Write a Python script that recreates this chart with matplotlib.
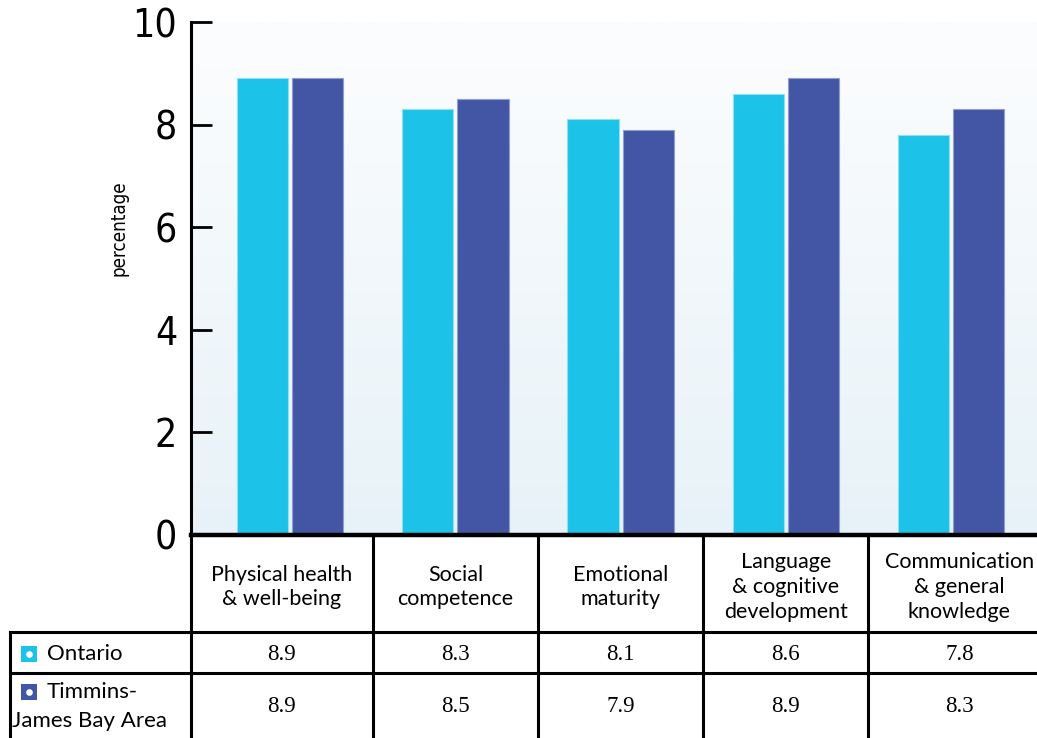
import numpy as np
import matplotlib
matplotlib.use("Agg")
import matplotlib.pyplot as plt
from matplotlib.transforms import blended_transform_factory
from matplotlib.lines import Line2D

# data
domains = ["Physical health\n& well-being", "Social\ncompetence", "Emotional\nmaturity",
           "Language\n& cognitive\ndevelopment", "Communication\n& general\nknowledge"]
ontario = [8.9, 8.3, 8.1, 8.6, 7.8]
timmins = [8.9, 8.5, 7.9, 8.9, 8.3]
series_names = ["Ontario", "Timmins-\nJames Bay Area"]
yticks = [0, 2, 4, 6, 8, 10]

c_ont = "#1cc2e7"
c_tim = "#4356a5"

W, H = 1037, 738
fig = plt.figure(figsize=(W / 100, H / 100), dpi=100)
fig.patch.set_facecolor("white")

# main axis: left spine at x=191, y=0 at 535px, y=10 at 22px, runs off the right edge
ax = fig.add_axes([191 / W, 1 - 535 / H, 1 - 191 / W, (535 - 22) / H])
x = np.arange(len(domains))
ax.set_xlim(-0.6, 4.52)
ax.set_ylim(0, 10)

# soft gradient background
grad = np.linspace(0, 1, 256).reshape(-1, 1)
ax.imshow(grad, extent=(-0.6, 4.52, 0, 10), aspect="auto", origin="lower",
          cmap=matplotlib.colors.LinearSegmentedColormap.from_list("bg", ["#e7f2f8", "#fcfdfe"]),
          zorder=0)

bw = 0.31
gap = 0.025
ax.bar(x - bw / 2 - gap / 2, ontario, bw, color=c_ont, edgecolor="#8fe0f3", linewidth=0.8, zorder=2)
ax.bar(x + bw / 2 + gap / 2, timmins, bw, color=c_tim, edgecolor="#8f9dd0", linewidth=0.8, zorder=2)

for s in ["top", "right", "bottom"]:
    ax.spines[s].set_visible(False)
ax.spines["left"].set_linewidth(2.2)
ax.set_xticks([])
ax.set_yticks(yticks)
ax.tick_params(axis="y", direction="in", length=15, width=2, pad=10)
ax.set_yticklabels([str(t) for t in yticks], family="DejaVu Sans", fontstretch="condensed",
                   fontsize=28)
ax.set_ylabel("percentage", family="DejaVu Sans", fontstretch="condensed", fontsize=13.5)
ax.yaxis.set_label_coords(-62 / (W - 191), 1 - (228 - 22) / (535 - 22))

# table underneath, columns split half way between bar groups
tr = blended_transform_factory(ax.transData, fig.transFigure)
lw = 2.2
y_top, y_r1, y_r2, y_bot = 1 - 535 / H, 1 - 632 / H, 1 - 673 / H, 1 - 738 / H
left_fig = 10 / W
bounds = [-0.6, 0.5, 1.5, 2.5, 3.5, 4.6]
centers = [(bounds[k] + bounds[k + 1]) / 2 for k in range(len(domains))]

fig.add_artist(Line2D([-0.6, 4.6], [y_top, y_top], transform=tr, color="black", lw=lw + 1))
for yy in [y_r1, y_r2]:
    fig.add_artist(Line2D([left_fig, 1], [yy, yy], transform=fig.transFigure, color="black", lw=lw))
fig.add_artist(Line2D([left_fig, left_fig], [y_r1, y_bot - 0.01], transform=fig.transFigure,
                      color="black", lw=lw))
for xb in bounds[:-1]:
    fig.add_artist(Line2D([xb, xb], [y_top, y_bot - 0.01], transform=tr, color="black", lw=lw))

for i, name in enumerate(domains):
    fig.text(centers[i], 1 - 587 / H, name, transform=tr, ha="center", va="center",
             family="Lato", fontsize=15.5, linespacing=1.3)
    fig.text(centers[i], 1 - 654 / H, f"{ontario[i]:.1f}", transform=tr, ha="center", va="center",
             family="Liberation Serif", fontsize=16.5)
    fig.text(centers[i], 1 - 707 / H, f"{timmins[i]:.1f}", transform=tr, ha="center", va="center",
             family="Liberation Serif", fontsize=16.5)

# row labels with little legend keys
for key_y, col in [(1 - 654 / H, c_ont), (1 - 692 / H, c_tim)]:
    fig.add_artist(Line2D([29 / W], [key_y], transform=fig.transFigure, marker="s",
                          markersize=11.5, color=col, markeredgewidth=0))
    fig.add_artist(Line2D([29 / W], [key_y], transform=fig.transFigure, marker="o",
                          markersize=4.8, color="white", markeredgewidth=0))
first, second = series_names[1].split("\n")
fig.text(47 / W, 1 - 654 / H, series_names[0], ha="left", va="center", family="Lato", fontsize=16)
fig.text(47 / W, 1 - 692 / H, first, ha="left", va="center", family="Lato", fontsize=16)
fig.text(12 / W, 1 - 721 / H, second, ha="left", va="center", family="Lato", fontsize=16)

fig.savefig("out.png", dpi=100)
